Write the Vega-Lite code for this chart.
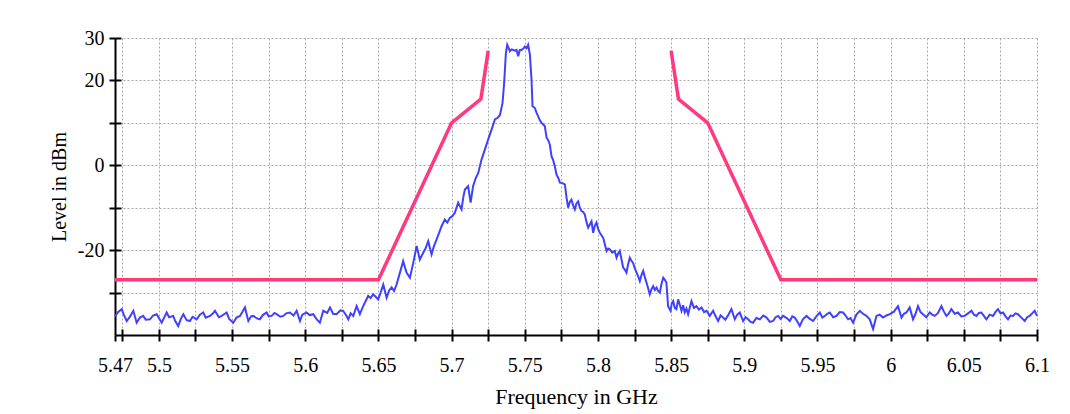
{
  "$schema": "https://vega.github.io/schema/vega-lite/v6.json",
  "width": 922,
  "height": 297,
  "autosize": "none",
  "padding": {"left": 115, "top": 38, "right": 33, "bottom": 79},
  "background": "white",
  "config": {"view": {"stroke": null}, "font": "Liberation Serif"},
  "datasets": {
    "mask": [
      {"seg": "low", "freq": 5.47, "level": -27},
      {"seg": "low", "freq": 5.65, "level": -27},
      {"seg": "low", "freq": 5.70, "level": 10},
      {"seg": "low", "freq": 5.72, "level": 15.6},
      {"seg": "low", "freq": 5.725, "level": 27},
      {"seg": "high", "freq": 5.85, "level": 27},
      {"seg": "high", "freq": 5.855, "level": 15.6},
      {"seg": "high", "freq": 5.875, "level": 10},
      {"seg": "high", "freq": 5.925, "level": -27},
      {"seg": "high", "freq": 6.1, "level": -27}
    ],
    "trace": [
      {"freq":5.470,"level":-35.6},{"freq":5.472,"level":-34.6},{"freq":5.4746,"level":-33.9},{"freq":5.476,"level":-35.2},{"freq":5.478,"level":-36.7},{"freq":5.480,"level":-35.8},{"freq":5.4825,"level":-34.3},{"freq":5.4848,"level":-37.1},{"freq":5.487,"level":-35.9},{"freq":5.4893,"level":-35.5},{"freq":5.491,"level":-36.4},{"freq":5.4939,"level":-36.3},{"freq":5.496,"level":-35.4},{"freq":5.4985,"level":-35.1},{"freq":5.500,"level":-36.0},{"freq":5.5019,"level":-37.1},{"freq":5.504,"level":-35.6},{"freq":5.5053,"level":-34.7},{"freq":5.507,"level":-35.8},{"freq":5.5098,"level":-35.5},{"freq":5.511,"level":-36.6},{"freq":5.5132,"level":-37.9},{"freq":5.515,"level":-36.2},{"freq":5.5167,"level":-35.1},{"freq":5.519,"level":-36.5},{"freq":5.5212,"level":-36.7},{"freq":5.523,"level":-35.7},{"freq":5.5258,"level":-36.3},{"freq":5.528,"level":-35.2},{"freq":5.5303,"level":-34.7},{"freq":5.532,"level":-35.9},{"freq":5.5349,"level":-35.5},{"freq":5.537,"level":-34.9},{"freq":5.5383,"level":-34.3},{"freq":5.541,"level":-35.8},{"freq":5.5429,"level":-35.5},{"freq":5.545,"level":-35.0},{"freq":5.5463,"level":-34.7},{"freq":5.548,"level":-36.2},{"freq":5.5508,"level":-37.1},{"freq":5.553,"level":-35.9},{"freq":5.5554,"level":-35.5},{"freq":5.557,"level":-34.6},{"freq":5.5588,"level":-33.5},{"freq":5.5611,"level":-36.7},{"freq":5.563,"level":-35.6},{"freq":5.5645,"level":-35.5},{"freq":5.567,"level":-36.1},{"freq":5.569,"level":-36.3},{"freq":5.571,"level":-35.3},{"freq":5.5736,"level":-34.7},{"freq":5.575,"level":-35.6},{"freq":5.577,"level":-35.5},{"freq":5.579,"level":-34.8},{"freq":5.5804,"level":-35.1},{"freq":5.583,"level":-35.7},{"freq":5.585,"level":-35.5},{"freq":5.587,"level":-34.9},{"freq":5.5895,"level":-34.7},{"freq":5.592,"level":-35.4},{"freq":5.5941,"level":-34.3},{"freq":5.5964,"level":-36.7},{"freq":5.598,"level":-35.2},{"freq":5.6009,"level":-34.7},{"freq":5.603,"level":-35.3},{"freq":5.6055,"level":-35.1},{"freq":5.608,"level":-36.4},{"freq":5.610,"level":-37.1},{"freq":5.6123,"level":-34.3},{"freq":5.615,"level":-34.8},{"freq":5.6169,"level":-33.5},{"freq":5.619,"level":-35.0},{"freq":5.6214,"level":-35.1},{"freq":5.624,"level":-34.2},{"freq":5.6259,"level":-34.3},{"freq":5.628,"level":-35.4},{"freq":5.6294,"level":-36.3},{"freq":5.631,"level":-34.9},
      {"freq":5.6328,"level":-35.5},{"freq":5.6351,"level":-33.2},{"freq":5.6373,"level":-35.1},{"freq":5.6396,"level":-33.2},{"freq":5.6413,"level":-32.0},{"freq":5.6430,"level":-30.8},{"freq":5.6447,"level":-31.3},{"freq":5.6464,"level":-30.4},{"freq":5.6481,"level":-31.0},{"freq":5.6498,"level":-31.6},{"freq":5.6515,"level":-30.0},{"freq":5.6533,"level":-28.1},{"freq":5.6556,"level":-31.2},{"freq":5.6573,"level":-29.5},{"freq":5.6590,"level":-28.8},{"freq":5.6607,"level":-29.6},{"freq":5.6624,"level":-28.1},{"freq":5.6647,"level":-25.3},{"freq":5.6669,"level":-22.6},{"freq":5.6692,"level":-25.3},{"freq":5.6715,"level":-26.5},{"freq":5.6738,"level":-23.0},{"freq":5.6761,"level":-19.0},{"freq":5.6783,"level":-22.2},{"freq":5.6806,"level":-20.6},{"freq":5.6823,"level":-19.5},{"freq":5.6840,"level":-17.9},{"freq":5.6863,"level":-21.0},{"freq":5.6880,"level":-19.0},{"freq":5.6897,"level":-17.5},{"freq":5.6914,"level":-16.0},{"freq":5.6932,"level":-14.3},{"freq":5.6954,"level":-12.8},{"freq":5.6971,"level":-13.5},{"freq":5.6988,"level":-12.4},{"freq":5.7005,"level":-12.0},{"freq":5.7022,"level":-11.2},{"freq":5.7045,"level":-8.8},{"freq":5.7068,"level":-10.4},{"freq":5.7080,"level":-7.5},{"freq":5.7091,"level":-5.7},{"freq":5.7113,"level":-4.9},{"freq":5.7130,"level":-8.8},{"freq":5.7147,"level":-4.9},{"freq":5.7165,"level":-3.0},{"freq":5.7182,"level":-1.8},{"freq":5.7205,"level":1.4},{"freq":5.7227,"level":3.7},{"freq":5.7250,"level":6.1},{"freq":5.7273,"level":8.4},{"freq":5.7296,"level":10.8},{"freq":5.7315,"level":11.2},{"freq":5.7330,"level":11.8},{"freq":5.7348,"level":14.7},{"freq":5.7359,"level":19.4},{"freq":5.7371,"level":26.5},{"freq":5.7380,"level":28.4},{"freq":5.7390,"level":27.6},{"freq":5.7398,"level":26.9},{"freq":5.7410,"level":27.3},{"freq":5.7421,"level":27.2},{"freq":5.7433,"level":27.0},{"freq":5.7444,"level":27.2},{"freq":5.7455,"level":25.7},{"freq":5.7466,"level":27.2},{"freq":5.7478,"level":27.2},{"freq":5.7490,"level":27.5},{"freq":5.7501,"level":28.0},{"freq":5.7512,"level":27.6},{"freq":5.7523,"level":28.4},{"freq":5.7535,"level":26.1},{"freq":5.7546,"level":20.2},{"freq":5.7553,"level":13.9},{"freq":5.7569,"level":13.5},{"freq":5.7580,"level":12.4},{"freq":5.7591,"level":11.6},{"freq":5.7603,"level":10.6},{"freq":5.7615,"level":10.0},{"freq":5.7626,"level":9.6},{"freq":5.7637,"level":9.2},{"freq":5.7649,"level":6.5},{"freq":5.7660,"level":5.9},{"freq":5.7671,"level":4.9},{"freq":5.7683,"level":2.1},{"freq":5.7694,"level":1.2},{"freq":5.7705,"level":-0.2},{"freq":5.7717,"level":-2.2},{"freq":5.7729,"level":-3.0},{"freq":5.7740,"level":-4.1},{"freq":5.7757,"level":-4.2},{"freq":5.7774,"level":-4.5},{"freq":5.7785,"level":-7.5},{"freq":5.7796,"level":-10.0},{"freq":5.7808,"level":-8.6},{"freq":5.7819,"level":-8.1},{"freq":5.7831,"level":-9.5},{"freq":5.7842,"level":-10.4},{"freq":5.7853,"level":-9.0},{"freq":5.7865,"level":-8.5},{"freq":5.7876,"level":-10.0},{"freq":5.7888,"level":-10.8},{"freq":5.7899,"level":-11.0},{"freq":5.7910,"level":-11.6},{"freq":5.7922,"level":-13.4},{"freq":5.7933,"level":-14.7},{"freq":5.7945,"level":-13.9},{"freq":5.7956,"level":-13.2},{"freq":5.7967,"level":-15.9},{"freq":5.7979,"level":-14.2},{"freq":5.7990,"level":-13.5},{"freq":5.8001,"level":-15.0},{"freq":5.8013,"level":-15.9},{"freq":5.8024,"level":-16.5},{"freq":5.8036,"level":-17.1},{"freq":5.8047,"level":-18.6},{"freq":5.8059,"level":-20.2},{"freq":5.8070,"level":-19.6},{"freq":5.8081,"level":-19.8},{"freq":5.8098,"level":-20.6},{"freq":5.8115,"level":-20.2},{"freq":5.8127,"level":-21.8},{"freq":5.8138,"level":-20.8},{"freq":5.8149,"level":-20.2},{"freq":5.8160,"level":-22.0},{"freq":5.8172,"level":-24.1},{"freq":5.8184,"level":-24.6},{"freq":5.8195,"level":-25.3},{"freq":5.8207,"level":-23.2},{"freq":5.8218,"level":-21.8},{"freq":5.8229,"level":-22.5},{"freq":5.8240,"level":-23.0},{"freq":5.8252,"level":-24.3},{"freq":5.8264,"level":-25.3},{"freq":5.8275,"level":-26.2},{"freq":5.8286,"level":-27.3},{"freq":5.8298,"level":-25.8},{"freq":5.8309,"level":-24.9},{"freq":5.8320,"level":-26.3},{"freq":5.8332,"level":-27.7},{"freq":5.8343,"level":-29.0},{"freq":5.8354,"level":-30.4},{"freq":5.8366,"level":-29.2},{"freq":5.8377,"level":-28.5},{"freq":5.8389,"level":-29.4},{"freq":5.8400,"level":-28.8},{"freq":5.8411,"level":-29.6},{"freq":5.8423,"level":-30.0},{"freq":5.8434,"level":-28.0},{"freq":5.8446,"level":-26.5},{"freq":5.8457,"level":-27.0},{"freq":5.8468,"level":-27.7},{"freq":5.8479,"level":-33.2},{"freq":5.8496,"level":-34.3},{"freq":5.8505,"level":-32.5},{"freq":5.8514,"level":-32.0},{"freq":5.8525,"level":-33.6},{"freq":5.8536,"level":-33.9},{"freq":5.8548,"level":-31.6},{"freq":5.8560,"level":-33.0},{"freq":5.8571,"level":-34.3},
      {"freq":5.8582,"level":-33.0},{"freq":5.8593,"level":-34.7},{"freq":5.8605,"level":-33.8},{"freq":5.8616,"level":-35.1},{"freq":5.8639,"level":-32.0},{"freq":5.8656,"level":-33.6},{"freq":5.8673,"level":-33.2},{"freq":5.8690,"level":-34.0},{"freq":5.8708,"level":-33.5},{"freq":5.8725,"level":-34.6},{"freq":5.8742,"level":-34.3},{"freq":5.8764,"level":-35.5},{"freq":5.8787,"level":-34.3},{"freq":5.8804,"level":-35.6},{"freq":5.8821,"level":-36.7},{"freq":5.8838,"level":-35.4},{"freq":5.8855,"level":-35.9},{"freq":5.8870,"level":-36.4},{"freq":5.8887,"level":-35.5},{"freq":5.8912,"level":-33.9},{"freq":5.8935,"level":-36.3},{"freq":5.8952,"level":-35.2},{"freq":5.8969,"level":-34.7},{"freq":5.8992,"level":-36.7},{"freq":5.9009,"level":-35.8},{"freq":5.9026,"level":-36.3},{"freq":5.9043,"level":-36.9},{"freq":5.9060,"level":-37.1},{"freq":5.9083,"level":-36.0},{"freq":5.9106,"level":-36.3},{"freq":5.9129,"level":-35.4},{"freq":5.9152,"level":-35.9},{"freq":5.9175,"level":-36.9},{"freq":5.9197,"level":-36.7},{"freq":5.9214,"level":-35.8},
      {"freq":5.9231,"level":-35.5},{"freq":5.9248,"level":-36.2},{"freq":5.9265,"level":-35.5},{"freq":5.9290,"level":-36.0},{"freq":5.9311,"level":-36.7},{"freq":5.9328,"level":-35.6},{"freq":5.9345,"level":-35.9},{"freq":5.9362,"level":-36.8},{"freq":5.9379,"level":-37.9},{"freq":5.9400,"level":-36.3},{"freq":5.9425,"level":-35.5},{"freq":5.9448,"level":-36.2},{"freq":5.9470,"level":-36.7},{"freq":5.9492,"level":-35.6},{"freq":5.9516,"level":-34.7},{"freq":5.9533,"level":-35.9},{"freq":5.9550,"level":-35.5},{"freq":5.9567,"level":-35.0},{"freq":5.9584,"level":-34.7},{"freq":5.9607,"level":-35.8},{"freq":5.9630,"level":-35.5},{"freq":5.9652,"level":-34.6},{"freq":5.9675,"level":-34.7},{"freq":5.9692,"level":-35.4},{"freq":5.9709,"level":-36.3},{"freq":5.9726,"level":-36.0},{"freq":5.9743,"level":-37.1},{"freq":5.9766,"level":-35.2},{"freq":5.9789,"level":-34.3},{"freq":5.9811,"level":-35.0},{"freq":5.9834,"level":-35.5},{"freq":5.9857,"level":-36.3},{"freq":5.9880,"level":-38.6},{"freq":5.9903,"level":-35.5},{"freq":5.9925,"level":-35.2},{"freq":5.9948,"level":-35.9},{"freq":5.9971,"level":-35.4},{"freq":5.9994,"level":-35.1},{"freq":6.0022,"level":-34.5},{"freq":6.0050,"level":-33.2},{"freq":6.0074,"level":-35.9},{"freq":6.0091,"level":-35.0},{"freq":6.0108,"level":-34.7},{"freq":6.0130,"level":-33.5},{"freq":6.0153,"level":-36.3},{"freq":6.0170,"level":-35.0},{"freq":6.0187,"level":-33.2},{"freq":6.0204,"level":-34.6},{"freq":6.0221,"level":-35.1},{"freq":6.0244,"level":-35.8},{"freq":6.0267,"level":-34.7},{"freq":6.0284,"level":-35.2},{"freq":6.0301,"level":-35.5},{"freq":6.0324,"level":-34.8},{"freq":6.0347,"level":-33.2},{"freq":6.0364,"level":-34.5},{"freq":6.0381,"level":-35.5},{"freq":6.0398,"level":-34.9},{"freq":6.0415,"level":-33.9},{"freq":6.0438,"level":-35.0},{"freq":6.0460,"level":-34.7},{"freq":6.0483,"level":-35.6},{"freq":6.0506,"level":-35.5},{"freq":6.0529,"level":-34.9},{"freq":6.0552,"level":-34.3},{"freq":6.0569,"level":-35.2},{"freq":6.0586,"level":-35.5},{"freq":6.0603,"level":-34.8},{"freq":6.0620,"level":-34.7},{"freq":6.0637,"level":-35.5},{"freq":6.0654,"level":-36.3},{"freq":6.0677,"level":-35.2},{"freq":6.0699,"level":-35.5},{"freq":6.0716,"level":-34.6},{"freq":6.0733,"level":-33.9},{"freq":6.0750,"level":-34.9},{"freq":6.0768,"level":-34.7},{"freq":6.0785,"level":-35.6},{"freq":6.0802,"level":-36.3},{"freq":6.0819,"level":-35.4},{"freq":6.0836,"level":-35.5},{"freq":6.0853,"level":-34.9},{"freq":6.0870,"level":-35.1},{"freq":6.0893,"level":-35.9},{"freq":6.0916,"level":-36.7},{"freq":6.0933,"level":-35.8},{"freq":6.0950,"level":-35.5},{"freq":6.0967,"level":-34.9},{"freq":6.0984,"level":-34.3},{"freq":6.1000,"level":-35.5}
    ]
  },
  "layer": [
    {
      "data": {"name": "trace"},
      "mark": {"type": "line", "color": "#4040ff", "strokeWidth": 2},
      "encoding": {
        "x": {
          "field": "freq", "type": "quantitative",
          "scale": {"domain": [5.47, 6.1], "nice": false, "zero": false},
          "axis": {
            "orient": "bottom",
            "title": "Frequency in GHz",
            "values": [5.47, 5.475, 5.5, 5.525, 5.55, 5.575, 5.6, 5.625, 5.65, 5.675, 5.7, 5.725, 5.75, 5.775, 5.8, 5.825, 5.85, 5.875, 5.9, 5.925, 5.95, 5.975, 6.0, 6.025, 6.05, 6.075, 6.1],
            "labelExpr": "(round(datum.value*1000) % 50 == 0 || round(datum.value*1000) == 5470) ? format(datum.value, '.2~f') : ''",
            "labelFlush": false, "labelOverlap": false,
            "grid": true, "gridColor": "#aaaaaa", "gridDash": [2, 2], "gridWidth": 1,
            "domainColor": "black", "domainWidth": 2,
            "tickColor": "black", "tickWidth": 2, "tickSize": 6,
            "labelFont": "Liberation Serif", "labelFontSize": 20, "labelColor": "black", "labelPadding": 14,
            "titleFont": "Liberation Serif", "titleFontSize": 22, "titleFontWeight": "normal", "titleColor": "black", "titlePadding": 11
          }
        },
        "y": {
          "field": "level", "type": "quantitative",
          "scale": {"domain": [-40, 30], "nice": false, "zero": false},
          "axis": {
            "orient": "left",
            "title": "Level in dBm",
            "values": [-30, -20, -10, 0, 10, 20, 30],
            "labelExpr": "(datum.value == 30 || datum.value == 20 || datum.value == 0 || datum.value == -20) ? '' + datum.value : ''",
            "labelOverlap": false,
            "grid": true, "gridColor": "#aaaaaa", "gridDash": [2, 2], "gridWidth": 1,
            "domainColor": "black", "domainWidth": 2,
            "tickColor": "black", "tickWidth": 2, "tickSize": 6,
            "labelFont": "Liberation Serif", "labelFontSize": 20, "labelColor": "black", "labelPadding": 5,
            "titleFont": "Liberation Serif", "titleFontSize": 20, "titleFontWeight": "normal", "titleColor": "black", "titlePadding": 8
          }
        }
      }
    },
    {
      "data": {"name": "mask"},
      "mark": {"type": "line", "color": "#ff3a68", "strokeWidth": 3.5},
      "encoding": {
        "x": {
          "field": "freq", "type": "quantitative",
          "axis": {
            "orient": "bottom", "title": null, "labels": false, "domain": false, "grid": false,
            "values": [5.475, 5.5, 5.525, 5.55, 5.575, 5.6, 5.625, 5.65, 5.675, 5.7, 5.725, 5.75, 5.775, 5.8, 5.825, 5.85, 5.875, 5.9, 5.925, 5.95, 5.975, 6.0, 6.025, 6.05, 6.075, 6.1],
            "tickColor": "black", "tickWidth": 2, "tickSize": -6
          }
        },
        "y": {
          "field": "level", "type": "quantitative",
          "axis": {
            "orient": "left", "title": null, "labels": false, "domain": false, "grid": false,
            "values": [-30, -20, -10, 0, 10, 20, 30],
            "tickColor": "black", "tickWidth": 2, "tickSize": -6
          }
        },
        "detail": {"field": "seg", "type": "nominal"}
      }
    },
    {
      "data": {"name": "mask"},
      "mark": {"type": "line", "color": "#ff33dd", "strokeWidth": 1.3, "strokeDash": [2, 2]},
      "encoding": {
        "x": {"field": "freq", "type": "quantitative", "axis": null},
        "y": {"field": "level", "type": "quantitative", "axis": null},
        "detail": {"field": "seg", "type": "nominal"}
      }
    }
  ],
  "resolve": {"axis": {"x": "independent", "y": "independent"}}
}
